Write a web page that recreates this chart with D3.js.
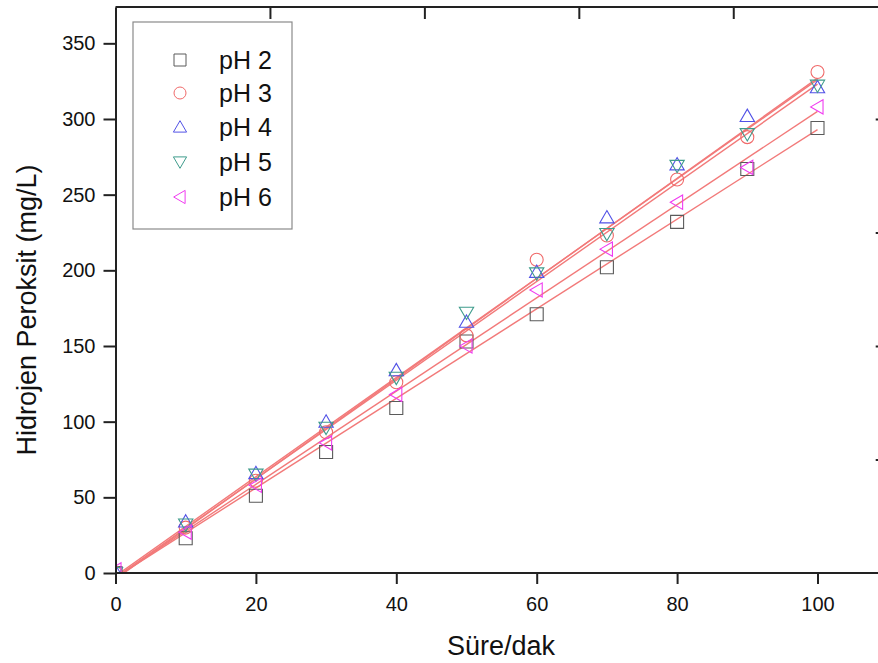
<!DOCTYPE html>
<html>
<head>
<meta charset="utf-8">
<script src="https://cdn.jsdelivr.net/npm/d3@7"></script>
<style>
  body { margin: 0; background: #fff; }
  text { font-family: "Liberation Sans", Arial, sans-serif; fill: #111; }
</style>
</head>
<body>
<div id="chart"></div>
<script>
// data
const time = [0, 10, 20, 30, 40, 50, 60, 70, 80, 90, 100];
const ph2 = [0, 23, 51, 80, 109, 153, 171, 202, 232, 267, 294];
const ph3 = [0, 30, 61, 93, 126, 157, 207, 223, 260, 288, 331];
const ph4 = [1, 34, 66, 100, 134, 166, 199, 235, 270, 302, 321];
const ph5 = [0, 32, 65, 96, 129, 172, 198, 224, 269, 290, 322];
const ph6 = [2, 27, 58, 86, 118, 150, 187, 214, 245, 268, 308];

// linear fit lines: value at t=0 and t=100
const fitStart = [-3, -4, -2, -3, -3];
const fitEnd = [293, 327, 326, 323, 305];

const seriesNames = ["pH 2", "pH 3", "pH 4", "pH 5", "pH 6"];
const xTicks = [0, 20, 40, 60, 80, 100];
const yTicks = [0, 50, 100, 150, 200, 250, 300, 350];
const topTicks = [22, 44, 66, 88];
const rightTicks = [75, 150, 225, 300];

const colors = ["#5a5a5a", "#f06a6a", "#5252e6", "#3f9c8c", "#f03cf0"];
const shapes = ["square", "circle", "up", "down", "left"];

const W = 878, H = 663;
const plotLeft = 115.5, plotTop = 7, plotBottom = 573;

const x = d3.scaleLinear().domain([0, 110]).range([plotLeft, plotLeft + 110 * 7.02]);
const y = d3.scaleLinear().domain([0, 374]).range([plotBottom, plotTop]);

const svg = d3.select("#chart").append("svg")
  .attr("width", W).attr("height", H);

svg.append("rect").attr("width", W).attr("height", H).attr("fill", "#fff");

svg.append("clipPath").attr("id", "plotclip")
  .append("rect")
  .attr("x", x(0)).attr("y", y(374))
  .attr("width", x(110) - x(0)).attr("height", y(0) - y(374));

// marker path generator
function marker(shape, s) {
  const h = s / 2;
  switch (shape) {
    case "square": return `M${-h},${-h}H${h}V${h}H${-h}Z`;
    case "circle": return `M${h},0A${h},${h} 0 1,1 ${-h},0A${h},${h} 0 1,1 ${h},0Z`;
    case "up": return `M0,${-h * 1.05}L${h * 1.1},${h * 0.85}L${-h * 1.1},${h * 0.85}Z`;
    case "down": return `M0,${h * 1.05}L${h * 1.1},${-h * 0.85}L${-h * 1.1},${-h * 0.85}Z`;
    case "left": return `M${-h * 1.05},0L${h * 0.85},${-h * 1.1}L${h * 0.85},${h * 1.1}Z`;
  }
}

const allSeries = [ph2, ph3, ph4, ph5, ph6];

// fit lines
const plot = svg.append("g").attr("clip-path", "url(#plotclip)");
allSeries.forEach((s, i) => {
  plot.append("line")
    .attr("x1", x(0)).attr("y1", y(fitStart[i]))
    .attr("x2", x(100)).attr("y2", y(fitEnd[i]))
    .attr("stroke", "#f27a7a")
    .attr("stroke-width", 1.4);
});

// points
allSeries.forEach((s, i) => {
  plot.selectAll(".pt" + i)
    .data(time.map((t, j) => ({ t: t, v: s[j] })))
    .join("path")
    .attr("class", "pt" + i)
    .attr("d", marker(shapes[i], 13))
    .attr("transform", d => `translate(${x(d.t)},${y(d.v)})`)
    .attr("fill", "none")
    .attr("stroke", colors[i])
    .attr("stroke-width", 1.1);
});

// axes
const xAxis = svg.append("g")
  .attr("transform", `translate(0,${plotBottom})`)
  .call(d3.axisBottom(x).tickValues(xTicks).tickSize(11).tickSizeOuter(0).tickPadding(13));
const yAxis = svg.append("g")
  .attr("transform", `translate(${plotLeft},0)`)
  .call(d3.axisLeft(y).tickValues(yTicks).tickSize(12).tickSizeOuter(0).tickPadding(8));
const topAxis = svg.append("g")
  .attr("transform", `translate(0,${plotTop})`)
  .call(d3.axisBottom(x).tickValues(topTicks).tickSize(12).tickSizeOuter(0).tickFormat(""));
const rightAxis = svg.append("g")
  .attr("transform", `translate(${x(110)},0)`)
  .call(d3.axisLeft(y).tickValues(rightTicks).tickSize(12).tickSizeOuter(0).tickFormat(""));

[xAxis, yAxis, topAxis, rightAxis].forEach(a => {
  a.select(".domain").attr("stroke", "#222").attr("stroke-width", 2);
  a.selectAll(".tick line").attr("stroke", "#222").attr("stroke-width", 2);
  a.selectAll(".tick text")
    .style("font-family", '"Liberation Sans", Arial, sans-serif')
    .style("font-size", "20px").attr("fill", "#111");
});
// full domain lines for frame
xAxis.select(".domain").attr("d", `M${x(0)},0H${x(110)}`);
topAxis.select(".domain").attr("d", `M${x(0)},0H${x(110)}`);

// axis titles
svg.append("text")
  .attr("x", 501).attr("y", 655)
  .attr("text-anchor", "middle")
  .style("font-size", "27px")
  .text("Süre/dak");

svg.append("text")
  .attr("transform", "translate(36,310) rotate(-90)")
  .attr("text-anchor", "middle")
  .style("font-size", "27px")
  .text("Hidrojen Peroksit (mg/L)");

// legend
const legend = svg.append("g");
legend.append("rect")
  .attr("x", 133).attr("y", 22)
  .attr("width", 159).attr("height", 207)
  .attr("fill", "#fff").attr("stroke", "#8a8a8a").attr("stroke-width", 1.2);

const legendY = [60, 93, 127, 162, 197];
seriesNames.forEach((name, i) => {
  legend.append("path")
    .attr("d", marker(shapes[i], 12))
    .attr("transform", `translate(180,${legendY[i]})`)
    .attr("fill", "none")
    .attr("stroke", colors[i])
    .attr("stroke-width", 1);
  legend.append("text")
    .attr("x", 219).attr("y", legendY[i] + 9)
    .style("font-size", "25px")
    .text(name);
});
</script>
</body>
</html>
